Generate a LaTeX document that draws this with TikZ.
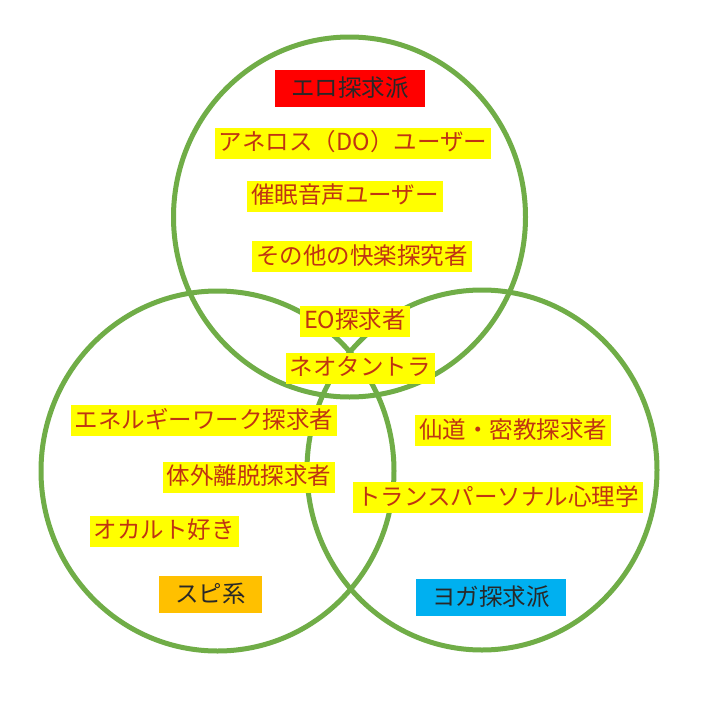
\documentclass[tikz,border=0pt]{standalone}
\usepackage{fontspec}
\setmainfont{Noto Sans CJK JP}
\definecolor{vgreen}{RGB}{112,173,71}
\definecolor{hlyellow}{RGB}{255,255,0}
\definecolor{itemtext}{RGB}{192,52,18}
\definecolor{labred}{RGB}{255,0,0}
\definecolor{laborange}{RGB}{255,192,0}
\definecolor{labblue}{RGB}{0,176,240}
\definecolor{labtext}{RGB}{40,40,40}
\tikzset{
  ring/.style={draw=vgreen, line width=5pt},
  item/.style={fill=hlyellow, text=itemtext, font=\fontsize{23.5pt}{27pt}\selectfont,
    inner xsep=4pt, inner ysep=3pt, text height=20pt, text depth=5pt},
  grouplabel/.style={text=labtext, font=\fontsize{23.5pt}{27pt}\selectfont,
    inner xsep=16pt, inner ysep=6pt, text height=20pt, text depth=5pt},
}
\begin{document}
\begin{tikzpicture}[x=1pt,y=-1pt]
\useasboundingbox (0,0) rectangle (720,720);
\fill[white] (0,0) rectangle (720,720);
\draw[ring] (349.5,217) ellipse [x radius=176, y radius=180];
\draw[ring] (217.5,471) ellipse [x radius=176.5, y radius=180];
\draw[ring] (482,470) ellipse [x radius=175, y radius=180];

\node[grouplabel, fill=labred] (ero) at (350,88.5) {エロ探求派};
\node[item] (aneros) at (353,143) {アネロス（DO）ユーザー};
\node[item] (saimin) at (345,196) {催眠音声ユーザー};
\node[item] (sonota) at (362,256.5) {その他の快楽探究者};
\node[item] (eo) at (355,321) {EO探求者};
\node[item] (neo) at (360,368) {ネオタントラ};
\node[item] (energy) at (204,420.5) {エネルギーワーク探求者};
\node[item] (taigai) at (249,477) {体外離脱探求者};
\node[item] (occult) at (164,531) {オカルト好き};
\node[grouplabel, fill=laborange] (spi) at (210.5,594.5) {スピ系};
\node[item] (sendo) at (513,430.5) {仙道・密教探求者};
\node[item] (trans) at (498,497.5) {トランスパーソナル心理学};
\node[grouplabel, fill=labblue] (yoga) at (491,597.5) {ヨガ探求派};
\end{tikzpicture}
\end{document}
